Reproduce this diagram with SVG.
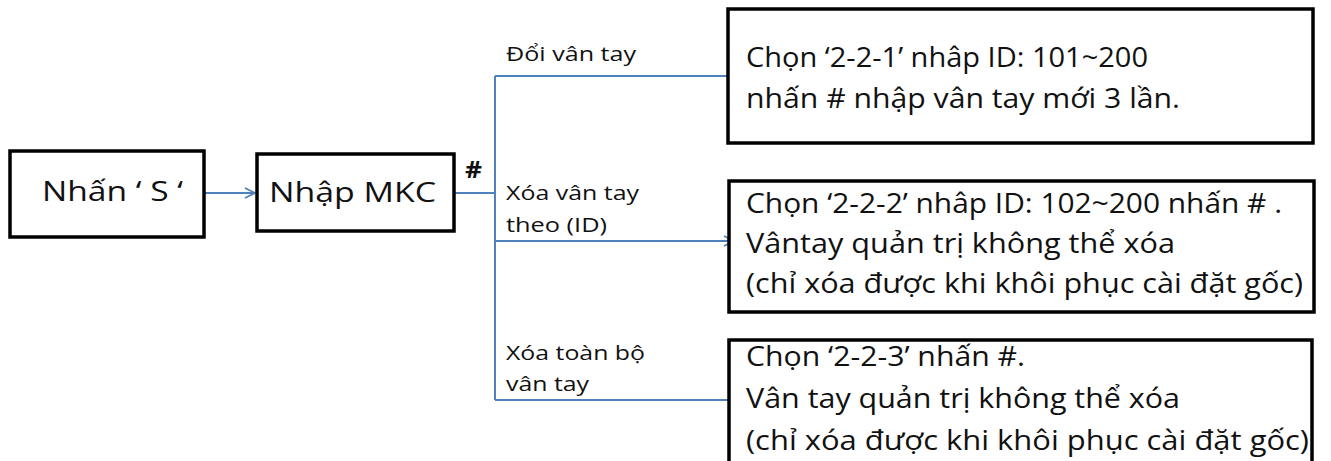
<svg xmlns="http://www.w3.org/2000/svg" width="1331" height="461" viewBox="0 0 1331 461">
<style>
.box{fill:#fff;stroke:#000;stroke-width:3.5}
.t{font-family:"Open Sans","Liberation Sans",sans-serif;fill:#111}
.big{font-size:28px}
.lbl{font-size:20px}
.body{font-size:27px}
.conn{fill:none;stroke:#4f81bd;stroke-width:2}
</style>
<defs>
<marker id="arr" viewBox="0 0 12 12" refX="11" refY="6" markerWidth="12" markerHeight="12" markerUnits="userSpaceOnUse" orient="auto">
<path d="M1,1 L11,6 L1,11" fill="none" stroke="#4f81bd" stroke-width="1.8"/>
</marker>
</defs>
<rect width="1331" height="461" fill="#fff"/>
<g id="connectors">
<line class="conn" x1="204" y1="193" x2="255" y2="193" marker-end="url(#arr)"/>
<line class="conn" x1="454" y1="193" x2="495" y2="193" stroke-width="3"/>
<line class="conn" x1="495" y1="76" x2="495" y2="400"/>
<line class="conn" x1="495" y1="76" x2="728" y2="76"/>
<line class="conn" x1="495" y1="241" x2="734" y2="241" marker-end="url(#arr)"/>
<line class="conn" x1="495" y1="400" x2="729" y2="400"/>
<text class="t" x="465" y="178" font-size="24" font-weight="bold" textLength="17" lengthAdjust="spacingAndGlyphs">#</text>
<text class="t lbl" x="506" y="61" textLength="130" lengthAdjust="spacingAndGlyphs">Đổi vân tay</text>
<text class="t lbl" x="506" y="200" textLength="133" lengthAdjust="spacingAndGlyphs">Xóa vân tay</text>
<text class="t lbl" x="506" y="232" textLength="101" lengthAdjust="spacingAndGlyphs">theo (ID)</text>
<text class="t lbl" x="506" y="360" textLength="139" lengthAdjust="spacingAndGlyphs">Xóa toàn bộ</text>
<text class="t lbl" x="506" y="391" textLength="83" lengthAdjust="spacingAndGlyphs">vân tay</text>
</g>
<g id="node-s">
<rect class="box" x="10" y="151" width="194" height="86"/>
<text class="t big" x="42" y="201" textLength="141" lengthAdjust="spacingAndGlyphs">Nhấn ‘ S ‘</text>
</g>
<g id="node-mkc">
<rect class="box" x="257" y="154" width="197" height="77"/>
<text class="t big" x="269" y="202" textLength="167" lengthAdjust="spacingAndGlyphs">Nhập MKC</text>
</g>
<g id="node-221">
<rect class="box" x="728" y="9" width="585" height="134"/>
<text class="t body" x="746" y="67" textLength="402" lengthAdjust="spacingAndGlyphs">Chọn ‘2-2-1’ nhâp ID: 101~200</text>
<text class="t body" x="746" y="108" textLength="434" lengthAdjust="spacingAndGlyphs">nhấn # nhập vân tay mới 3 lần.</text>
</g>
<g id="node-222">
<rect class="box" x="729" y="181" width="585" height="131"/>
<text class="t body" x="746" y="213" textLength="536" lengthAdjust="spacingAndGlyphs">Chọn ‘2-2-2’ nhâp ID: 102~200 nhấn # .</text>
<text class="t body" x="746" y="253" textLength="429" lengthAdjust="spacingAndGlyphs">Vântay quản trị không thể xóa</text>
<text class="t body" x="746" y="293" textLength="557" lengthAdjust="spacingAndGlyphs">(chỉ xóa được khi khôi phục cài đặt gốc)</text>
</g>
<g id="node-223">
<rect class="box" x="729" y="340" width="583" height="140"/>
<text class="t body" x="746" y="366" textLength="279" lengthAdjust="spacingAndGlyphs">Chọn ‘2-2-3’ nhấn #.</text>
<text class="t body" x="746" y="408" textLength="434" lengthAdjust="spacingAndGlyphs">Vân tay quản trị không thể xóa</text>
<text class="t body" x="746" y="450" textLength="563" lengthAdjust="spacingAndGlyphs">(chỉ xóa được khi khôi phục cài đặt gốc)</text>
</g>
</svg>
